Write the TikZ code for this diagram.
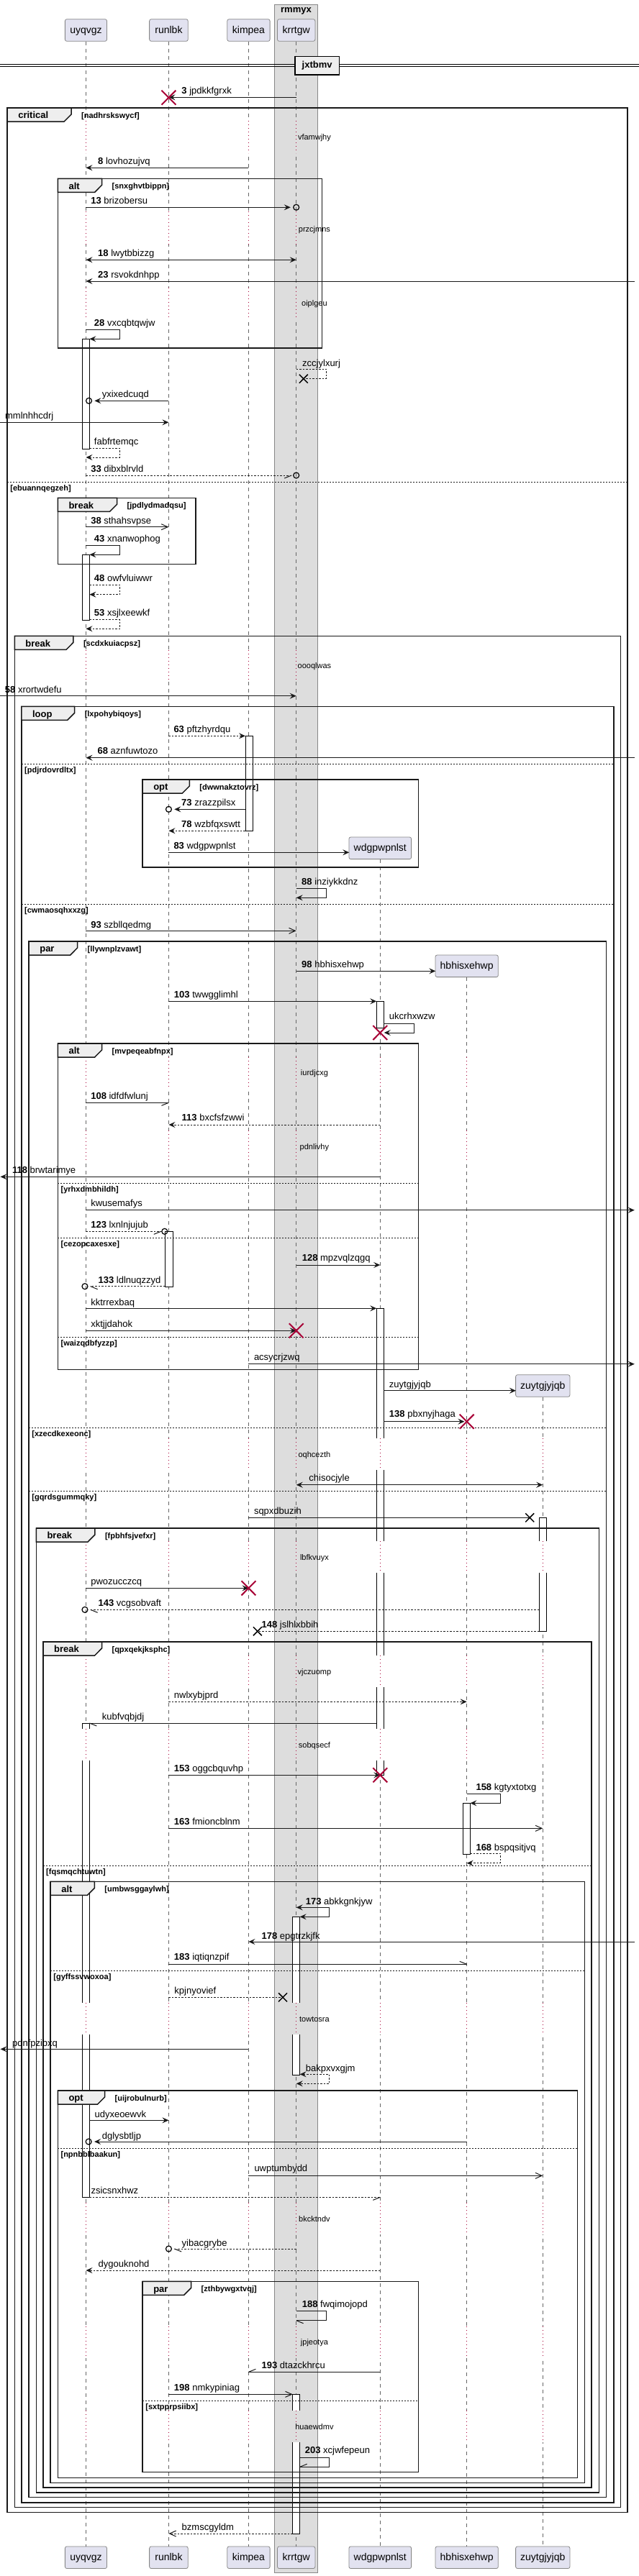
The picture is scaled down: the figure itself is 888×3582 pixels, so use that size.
\documentclass[tikz,border=0pt]{standalone}
\usepackage{fontspec}
\setmainfont{Liberation Sans}
\usetikzlibrary{arrows.meta}
\definecolor{partfill}{HTML}{E2E2F0}
\definecolor{partline}{HTML}{888888}
\definecolor{boxfill}{HTML}{DDDDDD}
\definecolor{tabfill}{HTML}{EEEEEE}
\definecolor{xred}{HTML}{A80036}
\tikzset{
  ftip/.tip={Stealth[length=9pt,width=8pt,inset=3.5pt]},
  otip/.tip={Straight Barb[length=9pt,width=8pt]},
  part/.style={draw=partline,fill=partfill,rounded corners=2.5pt,minimum height=30.6pt,inner sep=0pt,line width=0.8pt,font=\fontsize{14}{16}\selectfont,text height=10.5pt,text depth=2pt},
  life/.style={draw=black!60,line width=0.7pt,dash pattern=on 5pt off 5pt},
  act/.style={draw=black,fill=white,line width=0.8pt},
  msg/.style={draw=black!90,line width=1pt},
  dsh/.style={dash pattern=on 2.5pt off 2pt},
  frmline/.style={draw=black!90,line width=1.5pt},
  elsl/.style={draw=black!90,line width=0.8pt,dash pattern=on 2pt off 2pt},
  delayline/.style={draw=xred,line width=0.8pt,dash pattern=on 1pt off 4pt},
  lbl/.style={anchor=base west,inner sep=0pt,font=\fontsize{13}{15}\selectfont},
  dlbl/.style={anchor=base,inner sep=0pt,font=\fontsize{11}{13}\selectfont},
  glbl/.style={anchor=base west,inner sep=0pt,font=\bfseries\fontsize{13}{15}\selectfont},
  guard/.style={anchor=base west,inner sep=0pt,font=\bfseries\fontsize{11}{13}\selectfont},
}
\newcommand\ml[3]{\node[lbl] at (#1,#2+4.5) {#3};}
\newcommand\nb[1]{\textbf{#1}}
\newcommand\lostx[2]{\draw[line width=1.5pt,black] (#1-6,#2-6)--(#1+6,#2+6) (#1-6,#2+6)--(#1+6,#2-6);}
\newcommand\dstr[2]{\draw[xred,line width=2pt] (#1-10,#2-10)--(#1+10,#2+10) (#1-10,#2+10)--(#1+10,#2-10);}
\newcommand\tipcirc[2]{\draw[line width=1.2pt] (#1,#2) circle[radius=4pt];}
\newcommand\dly[5]{%
  \fill[boxfill] (408,#1) rectangle (421,#2);
  \draw[delayline] (414.6,#1)--(414.6,#2);
  \foreach \xx in {#5} {\fill[white] (\xx-6.5,#1) rectangle (\xx+6.5,#2); \draw[delayline] (\xx,#1)--(\xx,#2);}
  \node[dlbl] at (440,#3+4) {#4};}
\newcommand\frm[7]{%
  \draw[frmline] (#1,#2) rectangle (#3,#4);
  \draw[frmline,fill=tabfill] (#1,#2) -- (#1+#5,#2) -- (#1+#5,#2+9) -- (#1+#5-10,#2+19) -- (#1,#2+19) -- cycle;
  \node[glbl] at (#1+15,#2+14.7) {#6};
  \node[guard] at (#1+#5+14,#2+14.5) {#7};}
\newcommand\els[4]{%
  \draw[elsl] (#1,#3) -- (#2,#3);
  \node[guard] at (#1+4,#3+12.5) {#4};}
\begin{document}
\begin{tikzpicture}[x=1pt,y=-1pt]
\useasboundingbox (0,0) rectangle (888,3582);
\fill[white] (0,0) rectangle (888,3582);
\begin{scope}[xscale=0.993]
% box
\draw[fill=boxfill,draw=partline,line width=0.6pt] (384.4,6) rectangle (444.3,3577);
\node[font=\bfseries\fontsize{13}{15}\selectfont,inner sep=0pt] (rmmyx) at (414.4,15) {rmmyx};
% participants
\node[part,minimum width=58.2pt] (uT) at (120.3,42) {uyqvgz};
\node[part,minimum width=53.6pt] (rT) at (236.1,42) {runlbk};
\node[part,minimum width=59.3pt] (kT) at (347.9,42) {kimpea};
\node[part,minimum width=52.4pt] (tT) at (414.6,42) {krrtgw};
\node[part,minimum width=86.7pt] (wT) at (532,1179.3) {wdgpwpnlst};
\node[part,minimum width=87.3pt] (hT) at (653.25,1343.3) {hbhisxehwp};
\node[part,minimum width=75.3pt] (zT) at (759.6,1927) {zuytgjyjqb};
\node[part,minimum width=58.2pt] (uB) at (120.3,3556.2) {uyqvgz};
\node[part,minimum width=53.6pt] (rB) at (236.1,3556.2) {runlbk};
\node[part,minimum width=59.3pt] (kB) at (347.9,3556.2) {kimpea};
\node[part,minimum width=52.4pt] (tB) at (414.6,3556.2) {krrtgw};
\node[part,minimum width=86.7pt] (wB) at (532,3556.2) {wdgpwpnlst};
\node[part,minimum width=87.3pt] (hB) at (653.25,3556.2) {hbhisxehwp};
\node[part,minimum width=75.3pt] (zB) at (759.6,3556.2) {zuytgjyjqb};
% lifelines
\draw[life] (uT.south) -- (uB.north);
\draw[life] (rT.south) -- (rB.north);
\draw[life] (kT.south) -- (kB.north);
\draw[life] (tT.south) -- (tB.north);
\draw[life] (wT.south) -- (wB.north);
\draw[life] (hT.south) -- (hB.north);
\draw[life] (zT.south) -- (zB.north);
% activations
\draw[act] (115.3,471.3) rectangle (125.3,624);
\draw[act] (115.3,771.3) rectangle (125.3,862.3);
\draw[act] (343.4,1023.3) rectangle (353.4,1155.3);
\draw[act] (527,1392.3) rectangle (537,1429.3);
\draw[act] (231.1,1712.3) rectangle (241.6,1789.3);
\draw[act] (527,1819.3) rectangle (537,2468.3);
\draw[act] (754.6,2110.3) rectangle (764.6,2268.3);
\draw[act] (115.3,2396) rectangle (125.3,3055.3);
\draw[act] (648,2507.3) rectangle (658,2578.3);
\draw[act] (409.6,2665.3) rectangle (419.6,2885.3);
\draw[act] (409.6,3329.3) rectangle (419.6,3523);
% delays
\dly{168.3}{213.3}{190.7}{vfamwjhy}{120.3,236.1,347.9}
\dly{294}{340}{318.3}{przcjmns}{120.3,236.1,347.9}
\dly{399.7}{443.7}{421.7}{oiplgeu}{120.3,236.1,347.9}
\dly{903.7}{947.7}{925.7}{oooqlwas}{120.3,236.1,347.9}
\dly{1469.7}{1513.7}{1491.7}{iurdjcxg}{120.3,236.1,347.9,532,653.25}
\dly{1572.3}{1616.3}{1594.3}{pdnlivhy}{120.3,236.1,347.9,532,653.25}
\dly{2000.3}{2044.3}{2022.3}{oqhcezth}{120.3,236.1,347.9,532,653.25,759.6}
\dly{2143.3}{2187.3}{2165.3}{lbfkvuyx}{120.3,236.1,347.9,532,653.25,759.6}
\dly{2302.3}{2346.3}{2324.3}{vjczuomp}{120.3,236.1,347.9,532,653.25,759.6}
\dly{2404}{2448}{2426}{sobqsecf}{120.3,236.1,347.9,532,653.25,759.6}
\dly{2785.3}{2829.3}{2807.3}{towtosra}{120.3,236.1,347.9,532,653.25,759.6}
\dly{3063.3}{3107.3}{3085.3}{bkcktndv}{120.3,236.1,347.9,532,653.25,759.6}
\dly{3234.7}{3278.7}{3256.7}{jpjeotya}{120.3,236.1,347.9,532,653.25,759.6}
\dly{3352}{3396}{3374}{huaewdmv}{120.3,236.1,347.9,532,653.25,759.6}
% divider
\draw[line width=1pt] (0,89.3) -- (894,89.3) (0,92.5) -- (894,92.5);
\node[draw,line width=1.5pt,fill=tabfill,minimum width=61.5pt,minimum height=25.7pt,inner sep=0pt,font=\bfseries\fontsize{13}{15}\selectfont] (jx) at (443.75,91.2) {jxtbmv};
% frames
\frm{10.3}{150}{878.3}{3493.3}{89.5}{critical}{[nadhrskswycf]}
\els{10.3}{878.3}{670.3}{[ebuannqegzeh]}
\frm{81}{248.3}{450.5}{484}{61.6}{alt}{[snxghvtbippn]}
\frm{81}{692.3}{273.8}{784.3}{82.7}{break}{[jpdlydmadqsu]}
\frm{20.5}{884.3}{868.6}{3486.7}{82.2}{break}{[scdxkuiacpsz]}
\frm{30.2}{982.3}{858.8}{3480}{74.2}{loop}{[lxpohybiqoys]}
\els{30.2}{858.8}{1062.3}{[pdjrdovrdltx]}
\els{30.2}{858.8}{1257.3}{[cwmaosqhxxzg]}
\frm{199.6}{1084}{585.7}{1206}{65.6}{opt}{[dwwnakztovrz]}
\frm{40.5}{1309}{848.6}{3472.7}{67.9}{par}{[llywnplzvawt]}
\els{40.5}{848.6}{1985.3}{[xzecdkexeonc]}
\els{40.5}{848.6}{2073.3}{[gqrdsgummqky]}
\frm{81}{1451}{585.7}{1904.3}{61.6}{alt}{[mvpeqeabfnpx]}
\els{81}{585.7}{1645.3}{[yrhxdmbhildh]}
\els{81}{585.7}{1721.3}{[cezopcaxesxe]}
\els{81}{585.7}{1859.3}{[waizqdbfyzzp]}
\frm{50.8}{2125}{838.3}{3466}{82.1}{break}{[fpbhfsjvefxr]}
\frm{60.5}{2283}{828}{3459}{82}{break}{[qpxqekjksphc]}
\els{60.5}{828}{2594}{[fqsmqchtuwtn]}
\frm{70.7}{2616.3}{818.4}{3452.3}{61.6}{alt}{[umbwsggaylwh]}
\els{70.7}{818.4}{2740.3}{[gyffssvwoxoa]}
\frm{81}{2907}{808}{3445.7}{65.6}{opt}{[uijrobulnurb]}
\els{81}{808}{2987}{[npnbblbaakun]}
\frm{199.6}{3172.3}{585.7}{3437.7}{67.9}{par}{[zthbywgxtvqj]}
\els{199.6}{585.7}{3338.3}{[sxtpprpsiibx]}
% messages
\draw[msg,-ftip] (414.6,135.3) -- (236.1,135.3); \dstr{236.1}{135.7}
\ml{254}{126.3}{\nb{3} jpdkkfgrxk}
\draw[msg,-ftip] (347.9,233.3) -- (120.3,233.3); \ml{137}{224.3}{\nb{8} lovhozujvq}
\draw[msg,-ftip] (120.3,288.3) -- (406.6,288.3); \tipcirc{414.6}{288.3} \ml{127}{279.3}{\nb{13} brizobersu}
\draw[msg,ftip-ftip] (120.3,361.3) -- (414.6,361.3); \ml{137}{352.3}{\nb{18} lwytbbizzg}
\draw[msg,-ftip] (888,391) -- (120.3,391); \ml{137}{382}{\nb{23} rsvokdnhpp}
\draw[msg,-ftip] (120.3,458.3) -- (167.7,458.3) -- (167.7,471.3) -- (125.3,471.3); \ml{131.7}{449.3}{\nb{28} vxcqbtqwjw}
\draw[msg,dsh] (414.6,513.3) -- (456.8,513.3) -- (456.8,526.7) -- (424.8,526.7); \lostx{424.8}{526.7} \ml{423}{505}{zccjylxurj}
\draw[msg,-ftip] (236.1,557.3) -- (132.3,557.3); \tipcirc{124.4}{557.3} \ml{142.6}{547.7}{yxixedcuqd}
\draw[msg,-ftip] (0,587.3) -- (236.1,587.3); \ml{7}{578.3}{mmlnhhcdrj}
\draw[msg,dsh,-ftip] (125.3,623.3) -- (167.7,623.3) -- (167.7,636) -- (120.3,636); \ml{131.7}{614}{fabfrtemqc}
\draw[msg,dsh] (120.3,661) -- (408,661); \draw[msg] (408,661) -- ++(-10,4); \tipcirc{414.6}{661} \ml{127}{652.3}{\nb{33} dibxblrvld}
\draw[msg,-otip] (120.3,732.7) -- (236.1,732.7); \ml{127}{723.7}{\nb{38} sthahsvpse}
\draw[msg,-ftip] (120.3,758.7) -- (167.7,758.7) -- (167.7,771.3) -- (125.3,771.3); \ml{131.7}{749}{\nb{43} xnanwophog}
\draw[msg,dsh,-ftip] (125.3,813.3) -- (167.7,813.3) -- (167.7,826.7) -- (125.3,826.7); \ml{131.7}{804}{\nb{48} owfvluiwwr}
\draw[msg,dsh,-ftip] (125.3,861.7) -- (167.7,861.7) -- (167.7,874.3) -- (120.3,874.3); \ml{131.7}{852.3}{\nb{53} xsjlxeewkf}
\draw[msg,-ftip] (0,967.7) -- (414.6,967.7); \ml{6.8}{958.7}{\nb{58} xrortwdefu}
\draw[msg,dsh,-ftip] (236.1,1023.3) -- (343.4,1023.3); \ml{243}{1013.7}{\nb{63} pftzhyrdqu}
\draw[msg,-ftip] (888,1053.7) -- (120.3,1053.7); \ml{136.3}{1044.3}{\nb{68} aznfuwtozo}
\draw[msg,-ftip] (343.4,1125.3) -- (244,1125.3); \tipcirc{236.1}{1125.3} \ml{253.8}{1115.7}{\nb{73} zrazzpilsx}
\draw[msg,dsh,-ftip] (343.4,1155.3) -- (236.1,1155.3); \ml{253.8}{1146.3}{\nb{78} wzbfqxswtt}
\draw[msg,-ftip] (236.1,1185.3) -- (488.7,1185.3); \ml{243}{1176.3}{\nb{83} wdgpwpnlst}
\draw[msg,-ftip] (414.6,1235) -- (456.8,1235) -- (456.8,1248.3) -- (414.6,1248.3); \ml{422}{1226}{\nb{88} inziykkdnz}
\draw[msg,-otip] (120.3,1294.3) -- (414.6,1294.3); \ml{127}{1285.7}{\nb{93} szbllqedmg}
\draw[msg,-ftip] (414.6,1350.3) -- (609.6,1350.3); \ml{422}{1340.7}{\nb{98} hbhisxehwp}
\draw[msg,-ftip] (236.1,1392.3) -- (527,1392.3); \ml{243.5}{1383.3}{\nb{103} twwgglimhl}
\draw[msg,-ftip] (537,1423.3) -- (579.4,1423.3) -- (579.4,1436) -- (537.5,1436); \dstr{532}{1436} \ml{544.6}{1413.3}{ukcrhxwzw}
\draw[msg] (120.3,1533.3) -- (236.1,1533.3); \draw[msg] (236.1,1533.3) -- ++(-10,4); \ml{127}{1524}{\nb{108} idfdfwlunj}
\draw[msg,dsh,-ftip] (532,1564) -- (236.1,1564); \ml{254.3}{1554}{\nb{113} bxcfsfzwwi}
\draw[msg,-ftip] (532,1636.3) -- (0.5,1636.3); \ml{17}{1627.3}{\nb{118} brwtarimye}
\draw[msg,-ftip] (120.3,1682.7) -- (888,1682.7); \ml{127}{1673.3}{kwusemafys}
\draw[msg,dsh] (120.3,1712.3) -- (225.3,1712.3); \draw[msg] (225.3,1712.3) -- ++(-10,4); \tipcirc{230.4}{1712.3} \ml{127}{1703.3}{\nb{123} lxnlnjujub}
\draw[msg,-ftip] (414.6,1759) -- (532,1759); \ml{422.6}{1749}{\nb{128} mpzvqlzqgq}
\draw[msg,dsh] (231.1,1788.7) -- (126.6,1788.7); \draw[msg] (126.6,1788.7) -- ++(10,4); \tipcirc{118.8}{1788.7} \ml{137.4}{1780.3}{\nb{133} ldlnuqzzyd}
\draw[msg,-ftip] (120.3,1819.3) -- (527,1819.3); \ml{127}{1811}{kktrrexbaq}
\draw[msg,-ftip] (120.3,1850.3) -- (414.6,1850.3); \dstr{414.6}{1850.3} \ml{127}{1840.7}{xktjjdahok}
\draw[msg,-ftip] (347.9,1896.7) -- (888,1896.7); \ml{355.3}{1886.7}{acsycrjzwq}
\draw[msg,-ftip] (537,1933.7) -- (722,1933.7); \ml{544.6}{1925}{zuytgjyjqb}
\draw[msg,-ftip] (537,1976.7) -- (650,1976.7); \dstr{653.25}{1976.7} \ml{544.6}{1966}{\nb{138} pbxnyjhaga}
\draw[msg,ftip-ftip] (414.6,2064.7) -- (759.6,2064.7); \ml{432.3}{2055}{chisocjyle}
\draw[msg] (347.9,2110.3) -- (741.4,2110.3); \lostx{741.4}{2110.3} \ml{355.3}{2101.3}{sqpxdbuzih}
\draw[msg,-ftip] (120.3,2208.3) -- (347.9,2208.3); \dstr{347.9}{2208.3} \ml{127}{2199.3}{pwozucczcq}
\draw[msg,dsh] (754.6,2238.3) -- (126.6,2238.3); \draw[msg] (126.6,2238.3) -- ++(10,4); \tipcirc{118.8}{2238.3} \ml{137.4}{2229.3}{\nb{143} vcgsobvaft}
\draw[msg,dsh] (754.6,2268.3) -- (360.4,2268.3); \lostx{360.4}{2268.3} \ml{366}{2259.3}{\nb{148} jslhlxbbih}
\draw[msg,dsh,-ftip] (236.1,2366.3) -- (653.25,2366.3); \ml{243.5}{2356.7}{nwlxybjprd}
\draw[msg] (527,2396) -- (125.3,2396); \draw[msg] (125.3,2396) -- ++(10,4); \ml{142.6}{2387.3}{kubfvqbjdj}
\draw[msg,-ftip] (236.1,2468.3) -- (532,2468.3); \dstr{532}{2468.3} \ml{243.5}{2459.3}{\nb{153} oggcbquvhp}
\draw[msg,-ftip] (653.25,2494.3) -- (700.3,2494.3) -- (700.3,2507.3) -- (658,2507.3); \ml{666}{2484.7}{\nb{158} kgtyxtotxg}
\draw[msg,-otip] (236.1,2542.3) -- (759.6,2542.3); \ml{243.5}{2533.3}{\nb{163} fmioncblnm}
\draw[msg,dsh,-ftip] (658,2577.3) -- (700.3,2577.3) -- (700.3,2590.7) -- (653.25,2590.7); \ml{666}{2568.7}{\nb{168} bspqsitjvq}
\draw[msg,ftip-ftip] (414.6,2652.3) -- (460.8,2652.3) -- (460.8,2665.3) -- (419.6,2665.3); \ml{427.7}{2643.7}{\nb{173} abkkgnkjyw}
\draw[msg,-ftip] (888,2700) -- (347.9,2700); \ml{366}{2691.7}{\nb{178} epgtrzkjfk}
\draw[msg] (236.1,2731.3) -- (653.25,2731.3); \draw[msg] (653.25,2731.3) -- ++(-10,-4); \ml{243.5}{2721.3}{\nb{183} iqtiqnzpif}
\draw[msg,dsh] (236.1,2777.3) -- (395.8,2777.3); \lostx{395.8}{2777.3} \ml{244}{2767.7}{kpjnyovief}
\draw[msg,-ftip] (347.9,2849.3) -- (0.5,2849.3); \ml{17}{2841.3}{pdnfpzibxq}
\draw[msg,dsh,ftip-ftip] (419.6,2884.3) -- (460.8,2884.3) -- (460.8,2897.3) -- (414.6,2897.3); \ml{427.7}{2875.7}{bakpxvxgjm}
\draw[msg,-ftip] (125.3,2948.3) -- (236.1,2948.3); \ml{132.3}{2939.7}{udyxeoewvk}
\draw[msg,-ftip] (653.25,2978) -- (132,2978); \tipcirc{124}{2978} \ml{142.6}{2969.7}{dglysbtljp}
\draw[msg,-otip] (347.9,3025.3) -- (759.6,3025.3); \ml{355.8}{3015.3}{uwptumbydd}
\draw[msg,dsh] (125.3,3055.3) -- (532,3055.3); \draw[msg] (532,3055.3) -- ++(-10,4); \ml{127.2}{3046.3}{zsicsnxhwz}
\draw[msg,dsh] (414.6,3127) -- (244,3127); \draw[msg] (244,3127) -- ++(10,4); \tipcirc{236.1}{3127} \ml{254.3}{3118.7}{yibacgrybe}
\draw[msg,dsh,-ftip] (532,3157) -- (120.3,3157); \ml{137.4}{3148.3}{dygouknohd}
\draw[msg] (414.6,3213.3) -- (456.8,3213.3) -- (456.8,3226.7) -- (414.6,3226.7); \draw[msg] (414.6,3226.7) -- ++(10,4); \ml{422.6}{3204.3}{\nb{188} fwqimojopd}
\draw[msg] (532,3298.3) -- (347.9,3298.3); \draw[msg] (347.9,3298.3) -- ++(10,-4); \ml{366}{3289.3}{\nb{193} dtazckhrcu}
\draw[msg,-otip] (236.1,3329.3) -- (409.6,3329.3); \ml{243.5}{3320}{\nb{198} nmkypiniag}
\draw[msg] (419.6,3417.3) -- (460.8,3417.3) -- (460.8,3430.3) -- (419.6,3430.3); \draw[msg] (419.6,3430.3) -- ++(10,-4); \ml{426.6}{3407.3}{\nb{203} xcjwfepeun}
\draw[msg,dsh,-otip] (409.6,3523) -- (236.1,3523); \ml{254.3}{3514.3}{bzmscgyldm}
\end{scope}
\end{tikzpicture}
\end{document}
